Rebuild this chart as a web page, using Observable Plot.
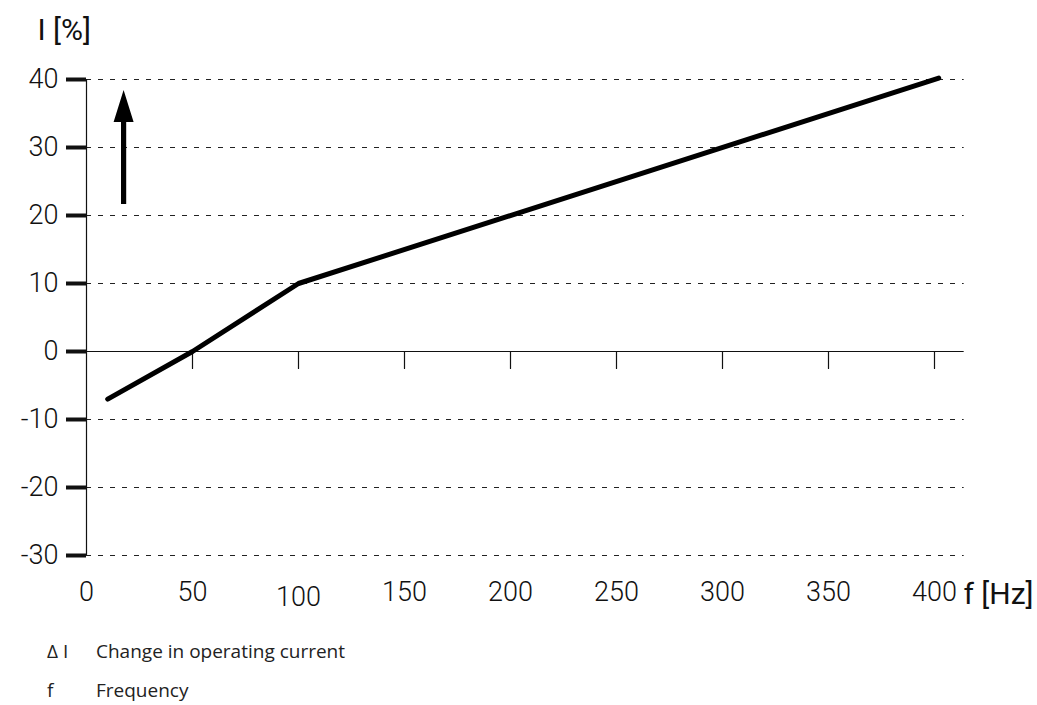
<!DOCTYPE html>
<html>
<head>
<meta charset="utf-8">
<script src="https://cdn.jsdelivr.net/npm/d3@7"></script>
<script src="https://cdn.jsdelivr.net/npm/@observablehq/plot@0.6"></script>
<style>
  html, body { margin: 0; padding: 0; background: #fff; }
  #legend { font-family: "Open Sans", "Noto Sans", sans-serif; font-size: 19px; color: #222;
    margin-top: 2px; padding-left: 47px; display: grid; grid-template-columns: 49px auto; line-height: 39px; }
</style>
</head>
<body>
<div id="chart"></div>
<div id="legend"></div>
<script>
// Data
const freqHz = [10, 50, 100, 402];
const currentChange = [-7, 0, 10, 40.2];
const yTicks = [-30, -20, -10, 0, 10, 20, 30, 40];
const xTicks = [0, 50, 100, 150, 200, 250, 300, 350, 400];
const gridEnd = 414;
const arrowAnno = [{x: 17.5, y: 21.7}];
const legendItems = [["Δ I", "Change in operating current"], ["f", "Frequency"]];

const curve = freqHz.map((f, i) => ({f, v: currentChange[i]}));
const font = "Roboto, Liberation Sans, Arial, sans-serif";

const arrowShape = {
  draw(context, l) {
    const hw = 2.6, head = 32, hh = 10;
    context.moveTo(-hw, 0);
    context.lineTo(-hw, -(l - head));
    context.lineTo(-hh, -(l - head));
    context.lineTo(0, -l);
    context.lineTo(hh, -(l - head));
    context.lineTo(hw, -(l - head));
    context.lineTo(hw, 0);
    context.closePath();
  }
};
const lineShape = { draw(context, l) { context.moveTo(0, 0); context.lineTo(0, -l); } };

const chart = Plot.plot({
  width: 1037,
  height: 630,
  marginLeft: 86,
  marginRight: 103,
  marginTop: 79,
  marginBottom: 75,
  style: { fontFamily: font, color: "#111", background: "#fff", fontWeight: 300 },
  x: { domain: [0, 400], axis: null },
  y: { domain: [-30, 40] },
  marks: [
    Plot.ruleY(yTicks.filter(d => d !== 0), { x1: 0, x2: gridEnd, stroke: "#222", strokeWidth: 1, strokeDasharray: "5,7" }),
    Plot.ruleY([0], { x1: 0, x2: gridEnd, stroke: "#111", strokeWidth: 1.2 }),
    Plot.ruleX([0], { y1: -30, y2: 40, stroke: "#111", strokeWidth: 1.2 }),
    Plot.vector(xTicks.filter(d => d > 0), { x: d => d, y: 0, length: 17, rotate: 180, anchor: "start", shape: lineShape, stroke: "#111", strokeWidth: 1.2 }),
    Plot.axisY({ ticks: yTicks, tickSize: 20, strokeWidth: 4, stroke: "#111", tickPadding: 8, fontSize: 27, fontWeight: 300, label: null, tickFormat: d => String(d) }),
    Plot.text(xTicks.filter(d => d !== 100), { x: d => d, frameAnchor: "bottom", dy: 45, text: d => String(d), fontSize: 27, fontWeight: 300, fill: "#111" }),
    Plot.text(xTicks.filter(d => d === 100), { x: d => d, frameAnchor: "bottom", dy: 50, text: d => String(d), fontSize: 27, fontWeight: 300, fill: "#111" }),
    Plot.line(curve, { x: "f", y: "v", stroke: "#000", strokeWidth: 5, strokeLinejoin: "round" }),
    Plot.vector(arrowAnno, { x: "x", y: "y", length: 114, anchor: "start", shape: arrowShape, fill: "#000", stroke: "none" }),
    Plot.text(["I [%]"], { frameAnchor: "top-left", dx: -49, dy: -61, textAnchor: "start", fontSize: 30, fontWeight: 400, fill: "#111" }),
    Plot.text(["f [Hz]"], { frameAnchor: "bottom-right", dx: 29, dy: 48, textAnchor: "start", fontSize: 30, fontWeight: 400, fill: "#111" })
  ]
});
document.getElementById("chart").appendChild(chart);

const legend = document.getElementById("legend");
for (const [k, v] of legendItems) {
  const a = document.createElement("div"); a.textContent = k;
  const b = document.createElement("div"); b.textContent = v;
  legend.appendChild(a); legend.appendChild(b);
}
</script>
</body>
</html>
